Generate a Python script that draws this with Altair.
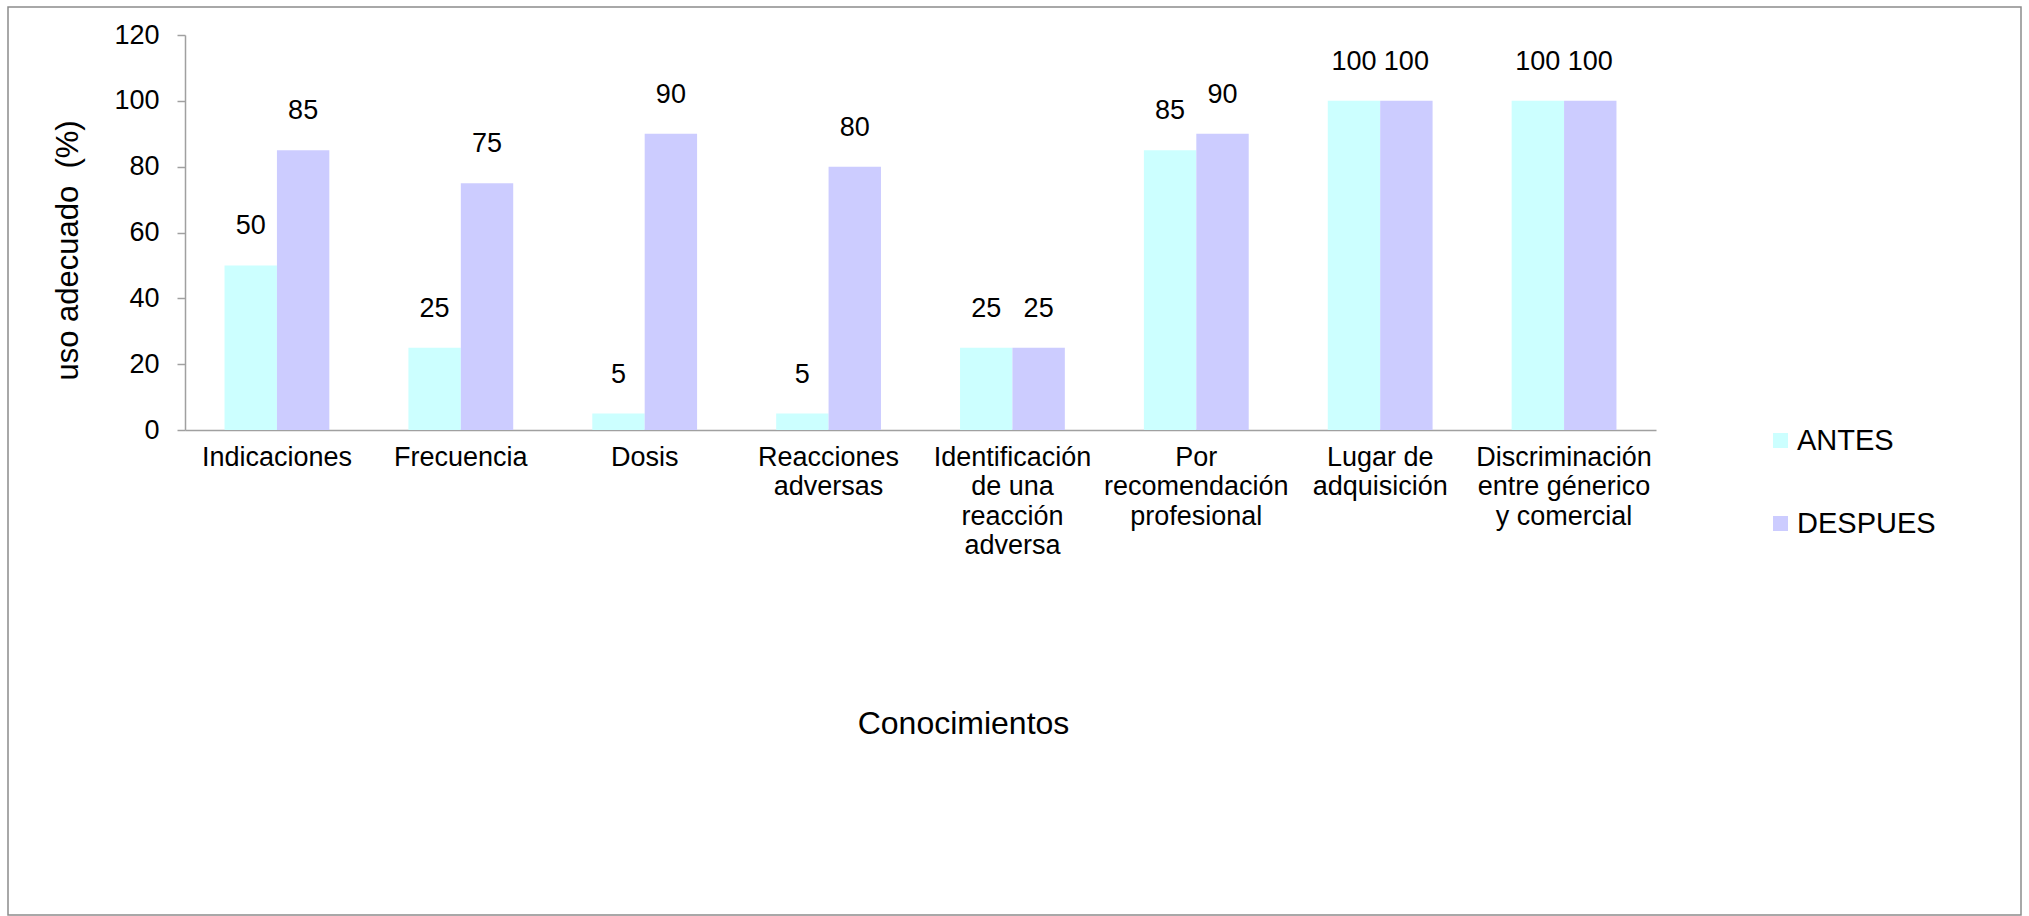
import altair as alt
import pandas as pd

categories = [
    "Indicaciones",
    "Frecuencia",
    "Dosis",
    "Reacciones|adversas",
    "Identificación|de una|reacción|adversa",
    "Por|recomendación|profesional",
    "Lugar de|adquisición",
    "Discriminación|entre génerico|y comercial",
]
series = ["ANTES", "DESPUES"]
antes = [50, 25, 5, 5, 25, 85, 100, 100]
despues = [85, 75, 90, 80, 25, 90, 100, 100]
colors = ["#CCFFFF", "#CCCCFF"]
y_ticks = [0, 20, 40, 60, 80, 100, 120]

rows = []
for c, a, d in zip(categories, antes, despues):
    rows.append({"cat": c, "serie": "ANTES", "val": a})
    rows.append({"cat": c, "serie": "DESPUES", "val": d})
df = pd.DataFrame(rows)

FONT = "Liberation Sans"

x_enc = alt.X(
    "cat:N",
    sort=categories,
    scale=alt.Scale(paddingInner=0.43, paddingOuter=0.215),
    axis=alt.Axis(
        title="Conocimientos",
        labelAngle=0,
        labelExpr="split(datum.value, '|')",
        labelFontSize=27,
        labelFont=FONT,
        labelColor="#000000",
        labelLineHeight=29.5,
        labelBaseline="top",
        labelPadding=14,
        ticks=False,
        domainColor="#A0A0A0",
        domainWidth=1.5,
        titleFont=FONT,
        titleFontSize=32,
        titleFontWeight="normal",
        titleColor="#000000",
        titleX=778,
        titleY=293,
        titleBaseline="middle",
        titleAlign="center",
        labelLimit=400,
    ),
)
xoff = alt.XOffset("serie:N", sort=series)
y_enc = alt.Y(
    "val:Q",
    scale=alt.Scale(domain=[0, 120], nice=False, zero=True),
    axis=alt.Axis(
        title="uso adecuado\u00a0 (%)",
        values=y_ticks,
        grid=False,
        tickSize=8,
        tickColor="#A0A0A0",
        tickWidth=1.5,
        domainColor="#A0A0A0",
        domainWidth=1.5,
        labelFontSize=27,
        labelFont=FONT,
        labelColor="#000000",
        labelPadding=18,
        titleFont=FONT,
        titleFontSize=31,
        titleFontWeight="normal",
        titleColor="#000000",
        titleAngle=270,
        titleX=-117,
        titleY=215,
        titleBaseline="middle",
        titleAlign="center",
    ),
)

bars = alt.Chart(df).mark_bar().encode(
    x=x_enc,
    xOffset=xoff,
    y=y_enc,
    color=alt.Color(
        "serie:N",
        scale=alt.Scale(domain=series, range=colors),
        legend=alt.Legend(
            title=None,
            orient="none",
            legendX=1581,
            legendY=391,
            symbolType="square",
            symbolSize=225,
            symbolStrokeWidth=0,
            labelFontSize=29,
            labelFont=FONT,
            labelColor="#000000",
            labelOffset=2,
            rowPadding=53,
            padding=0,
        ),
    ),
)

labels = alt.Chart(df).mark_text(
    font=FONT, fontSize=27, color="#000000", baseline="middle", dy=-39
).encode(
    x=alt.X("cat:N", sort=categories),
    xOffset=xoff,
    y=alt.Y("val:Q"),
    text=alt.Text("val:Q"),
)

frame = alt.Chart(pd.DataFrame({"a": [0]})).mark_rect(
    fill=None, stroke="#8C8C8C", strokeWidth=1.5
).encode(
    x=alt.value(-177), x2=alt.value(1836), y=alt.value(-28), y2=alt.value(880)
)

chart = alt.layer(frame, bars, labels).properties(
    width=1471,
    height=395,
    background="white",
    autosize=alt.AutoSizeParams(type="none"),
    padding={"left": 185, "top": 35, "right": 373, "bottom": 486},
).configure_view(stroke="transparent", strokeWidth=0)

chart.save("out.html", embed_options={"renderer": "svg", "actions": False})
